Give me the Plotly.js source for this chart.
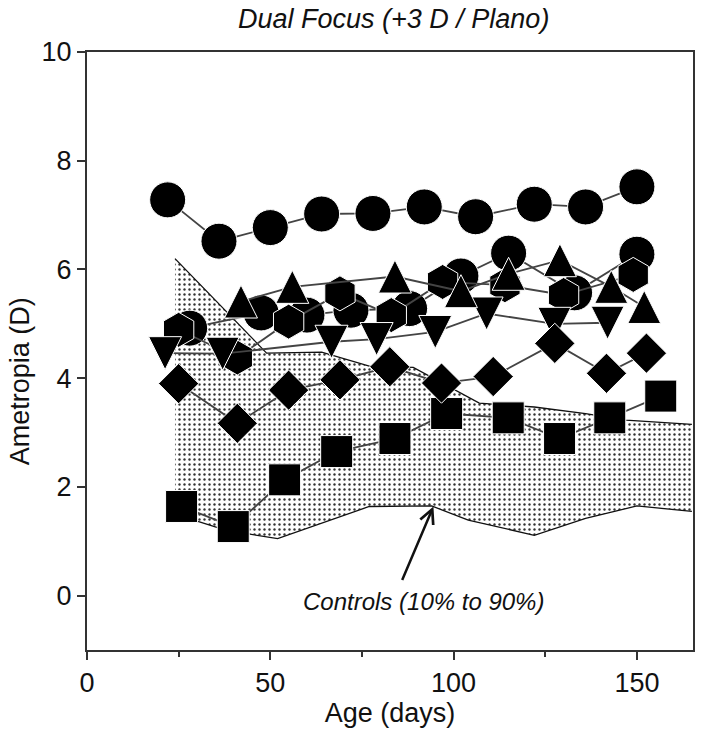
<!DOCTYPE html>
<html>
<head>
<meta charset="utf-8">
<script src="https://cdn.plot.ly/plotly-3.0.1.min.js"></script>
<style>html,body{margin:0;padding:0;background:#fff;}#chart{width:703px;height:737px;}</style>
</head>
<body>
<div id="chart"></div>
<script>
// Control band (10% to 90%)
const ctrlUpperX = [24, 49, 64, 77, 89, 107, 122, 136, 147, 165];
const ctrlUpperY = [6.2, 4.46, 4.48, 4.22, 4.2, 3.54, 3.47, 3.35, 3.23, 3.15];
const ctrlLowerX = [24, 38, 52, 77, 94, 104, 122, 136, 150, 165];
const ctrlLowerY = [1.5, 1.2, 1.05, 1.64, 1.65, 1.39, 1.11, 1.42, 1.65, 1.55];

// Individual animals
const circleAX = [22, 36, 50, 64, 78, 92, 106, 122, 136, 150];
const circleAY = [7.28, 6.52, 6.77, 7.02, 7.03, 7.15, 6.97, 7.20, 7.15, 7.52];

const circleBX = [28, 47.5, 60, 72, 88, 102, 115, 133, 150];
const circleBY = [4.92, 5.2, 5.16, 5.25, 5.28, 5.88, 6.30, 5.57, 6.28];

const hexX = [25, 41, 55, 69, 83, 97, 114, 130, 149];
const hexY = [4.89, 4.38, 5.04, 5.56, 5.16, 5.77, 5.71, 5.53, 5.90];

const triUpX = [42, 56, 84, 102, 115, 129, 143, 152];
const triUpY = [5.41, 5.68, 5.87, 5.6, 5.92, 6.17, 5.68, 5.31];

const triDownX = [21.3, 37, 66.7, 79, 95, 109, 127.5, 142];
const triDownY = [4.46, 4.45, 4.67, 4.72, 4.85, 5.19, 5.0, 5.02];

const diamondX = [25, 41, 55, 69, 82.6, 96.7, 110.8, 127.6, 141.7, 152.6];
const diamondY = [3.90, 3.17, 3.78, 3.97, 4.21, 3.91, 4.03, 4.64, 4.09, 4.46];

const squareX = [25.8, 39.9, 53.9, 68.1, 84, 98.1, 114.9, 128.9, 142.6, 156.5];
const squareY = [1.64, 1.27, 2.13, 2.65, 2.89, 3.35, 3.27, 2.89, 3.27, 3.67];

const titleText = 'Dual Focus (+3 D / Plano)';
const xTitle = 'Age (days)';
const yTitle = 'Ametropia (D)';
const bandLabel = 'Controls (10% to 90%)';

const FONT = 'Liberation Sans, Arial, Helvetica, sans-serif';
const lineCol = '#444';

const fillX = ctrlLowerX.concat(ctrlUpperX.slice().reverse());
const fillY = ctrlLowerY.concat(ctrlUpperY.slice().reverse());

function series(x, y, symbol, size, extra) {
  const m = Object.assign({symbol: symbol, size: size, color: '#000', line: {color: '#fff', width: 1}}, extra || {});
  return {
    x: x, y: y, type: 'scatter', mode: 'lines+markers',
    line: {color: lineCol, width: 1.8, backoff: 0},
    marker: m,
    hoverinfo: 'skip', showlegend: false, cliponaxis: false
  };
}

const TRI = 33;

const data = [
  {x: fillX, y: fillY, type: 'scatter', mode: 'none', fill: 'toself',
   fillcolor: 'rgba(0,0,0,0)',
   fillpattern: {shape: '.', fgcolor: '#333', bgcolor: '#fff', size: 5, solidity: 0.18},
   hoverinfo: 'skip', showlegend: false},
  {x: ctrlUpperX, y: ctrlUpperY, type: 'scatter', mode: 'lines', line: {color: '#111', width: 1.3}, showlegend: false},
  {x: ctrlLowerX, y: ctrlLowerY, type: 'scatter', mode: 'lines', line: {color: '#111', width: 1.3}, showlegend: false},
  series(squareX, squareY, 'square', 32),
  series(circleBX, circleBY, 'circle', 36),
  series(hexX, hexY, 'hexagon', 35),
  series(triDownX, triDownY, 'arrow-down', TRI, {standoff: TRI / 2}),
  series(triUpX, triUpY, 'arrow-down', TRI, {angle: 180, standoff: TRI / 2}),
  series(diamondX, diamondY, 'diamond', 31),
  series(circleAX, circleAY, 'circle', 36)
];

const axisCommon = {
  showline: true, linecolor: '#333', linewidth: 2, mirror: true,
  ticks: 'outside', ticklen: 8, tickwidth: 2, tickcolor: '#333',
  showgrid: false, zeroline: false,
  tickfont: {family: FONT, size: 27, color: '#111'}
};

const layout = {
  width: 703, height: 737,
  margin: {l: 87, r: 10, t: 52, b: 87},
  paper_bgcolor: '#fff', plot_bgcolor: '#fff',
  title: {text: titleText, font: {family: FONT, size: 27, color: '#111', style: 'italic'},
          x: 0.56, xanchor: 'center', y: 0.975, yanchor: 'middle'},
  xaxis: Object.assign({}, axisCommon, {
    range: [0, 165.3], tickmode: 'linear', tick0: 0, dtick: 50,
    minor: {ticks: 'outside', dtick: 25, tick0: 0, ticklen: 5, tickwidth: 2, tickcolor: '#333'},
    title: {text: xTitle, font: {family: FONT, size: 27, color: '#111'}, standoff: 4}
  }),
  yaxis: Object.assign({}, axisCommon, {
    range: [-1, 10], tickmode: 'linear', tick0: 0, dtick: 2
  }),
  annotations: [
    {x: -0.11, y: 0.45, xref: 'paper', yref: 'paper', text: yTitle, showarrow: false,
     textangle: -90, xanchor: 'center', yanchor: 'middle',
     font: {family: FONT, size: 27, color: '#111'}},
    {x: 91.9, y: -0.1, xref: 'x', yref: 'y', text: bandLabel, showarrow: false,
     font: {family: FONT, size: 24, color: '#111', style: 'italic'}},
    {x: 94.5, y: 1.64, xref: 'x', yref: 'y', ax: 85.8, ay: 0.26, axref: 'x', ayref: 'y',
     text: '', showarrow: true, arrowhead: 5, arrowsize: 1.1, arrowwidth: 2.5, arrowcolor: '#111', standoff: 0}
  ]
};

Plotly.newPlot('chart', data, layout, {staticPlot: true, displayModeBar: false});
</script>
</body>
</html>
